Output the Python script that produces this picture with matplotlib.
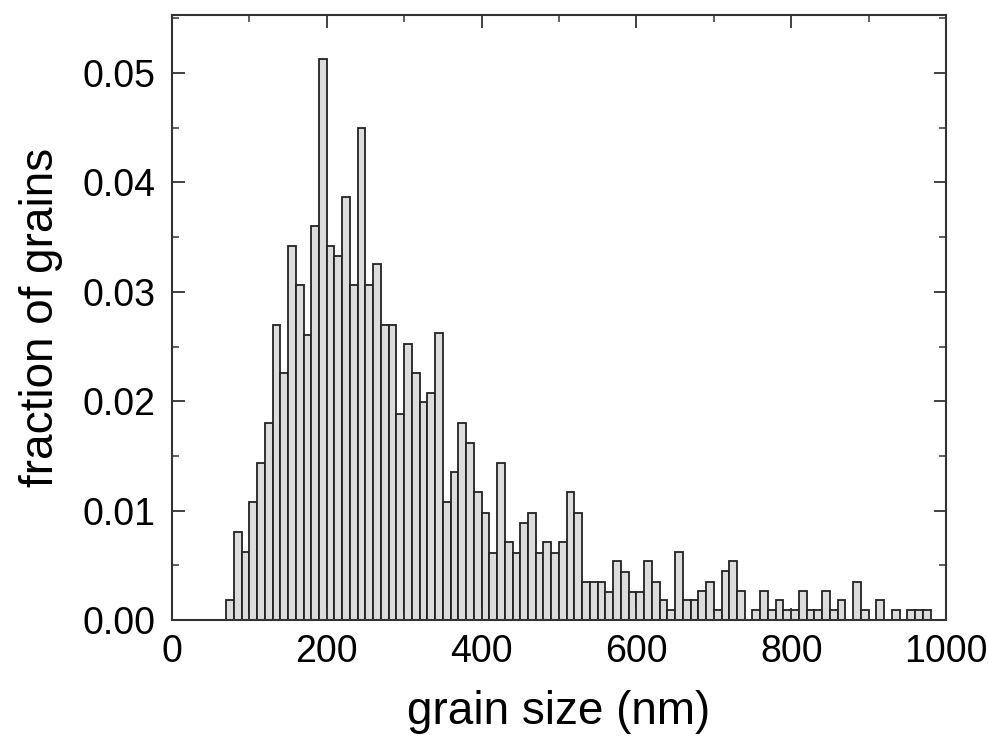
import numpy as np
import matplotlib.pyplot as plt
from matplotlib.ticker import MultipleLocator

plt.rcParams['font.family'] = ['Liberation Sans', 'DejaVu Sans']

# bin centres (nm) and fraction of grains in each 10 nm bin
sizes = list(range(75, 985, 10))
fraction = [
    0.0018, 0.0081, 0.0062, 0.0108, 0.0144, 0.0180, 0.0270, 0.0226, 0.0342, 0.0306,
    0.0261, 0.0360, 0.0513, 0.0342, 0.0333, 0.0387, 0.0306, 0.0450, 0.0306, 0.0325,
    0.0270, 0.0270, 0.0188, 0.0252, 0.0226, 0.0199, 0.0208, 0.0262, 0.0108, 0.0135,
    0.0180, 0.0162, 0.0117, 0.0098, 0.0061, 0.0144, 0.0071, 0.0061, 0.0089, 0.0098,
    0.0061, 0.0071, 0.0061, 0.0071, 0.0117, 0.0098, 0.0035, 0.0035, 0.0035, 0.0026,
    0.0054, 0.0044, 0.0026, 0.0026, 0.0054, 0.0035, 0.0018, 0.0009, 0.0062, 0.0018,
    0.0018, 0.0027, 0.0035, 0.0009, 0.0045, 0.0054, 0.0027, 0.0000, 0.0009, 0.0027,
    0.0009, 0.0018, 0.0009, 0.0009, 0.0027, 0.0009, 0.0009, 0.0027, 0.0009, 0.0018,
    0.0000, 0.0035, 0.0009, 0.0000, 0.0018, 0.0000, 0.0009, 0.0000, 0.0009, 0.0009,
    0.0009,
]

fig = plt.figure(figsize=(9.88, 7.49), dpi=100)
ax = fig.add_axes([0.174, 0.172, 0.7835, 0.808])

ax.bar(sizes, fraction, width=10, facecolor='#dcdcdc', edgecolor='#222222', linewidth=1.3)

ax.set_xlim(0, 1000)
ax.set_ylim(0, 0.0553)
ax.xaxis.set_major_locator(MultipleLocator(200))
ax.xaxis.set_minor_locator(MultipleLocator(100))
ax.yaxis.set_major_locator(MultipleLocator(0.01))
ax.yaxis.set_minor_locator(MultipleLocator(0.005))
ax.yaxis.set_major_formatter(plt.FuncFormatter(lambda v, p: '%.2f' % v))

ax.tick_params(which='both', direction='in', top=True, right=True, color='#333333')
ax.tick_params(which='major', length=9, width=1.3, labelsize=27, pad=10)
ax.tick_params(which='minor', length=5, width=1.1)
ax.tick_params(axis='y', which='major', pad=12)

for s in ax.spines.values():
    s.set_linewidth(1.5)
    s.set_color('#333333')

ax.set_xlabel('grain size (nm)', fontsize=33, labelpad=14)
ax.set_ylabel('fraction of grains', fontsize=33, labelpad=14)

fig.savefig('out.png', dpi=100)
